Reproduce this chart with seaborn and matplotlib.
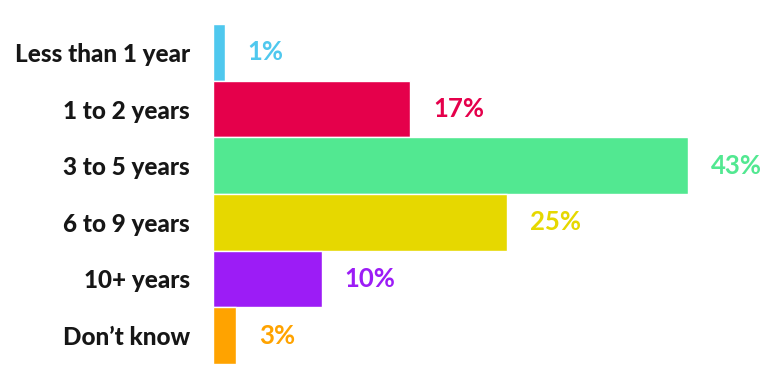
import matplotlib
matplotlib.use("Agg")
import matplotlib.pyplot as plt
import seaborn as sns
import pandas as pd

categories = ["Less than 1 year", "1 to 2 years", "3 to 5 years", "6 to 9 years", "10+ years", "Don\u2019t know"]
values = [1.05, 17.85, 43.0, 26.65, 9.85, 2.1]
value_labels = ["1%", "17%", "43%", "25%", "10%", "3%"]
colors = ["#4FC8EE", "#E5004B", "#52E891", "#E6D800", "#9C1CF6", "#FFA300"]

sns.set_theme(style="white")
plt.rcParams["font.family"] = ["Lato", "DejaVu Sans"]

df = pd.DataFrame({"category": categories, "value": values})

W, H = 777, 390
fig = plt.figure(figsize=(W / 100, H / 100), dpi=100)
ax = fig.add_axes([213 / W, 1 - 364 / H, (688 - 213) / W, (364 - 24) / H])

sns.barplot(data=df, x="value", y="category", hue="category", palette=colors,
            width=1.0, orient="h", legend=False, ax=ax, saturation=1)

ax.set_xlim(0, 43)
ax.set_ylim(5.5, -0.5)
for s in ax.spines.values():
    s.set_visible(False)
ax.set_xticks([])
ax.set_xlabel("")
ax.set_ylabel("")
ax.tick_params(axis="y", length=0, pad=16.5)
for lab in ax.get_yticklabels():
    lab.set_fontsize(17.5)
    lab.set_fontweight(900)
    lab.set_color("#161616")

from matplotlib.transforms import offset_copy
trans = offset_copy(ax.transData, fig=fig, x=23, y=0, units="dots")
for i, (v, t, c) in enumerate(zip(values, value_labels, colors)):
    ax.text(v, i, t, transform=trans, ha="left", va="center", color=c,
            fontsize=18.5, fontweight="bold", clip_on=False)

fig.savefig("out.png", dpi=100)
